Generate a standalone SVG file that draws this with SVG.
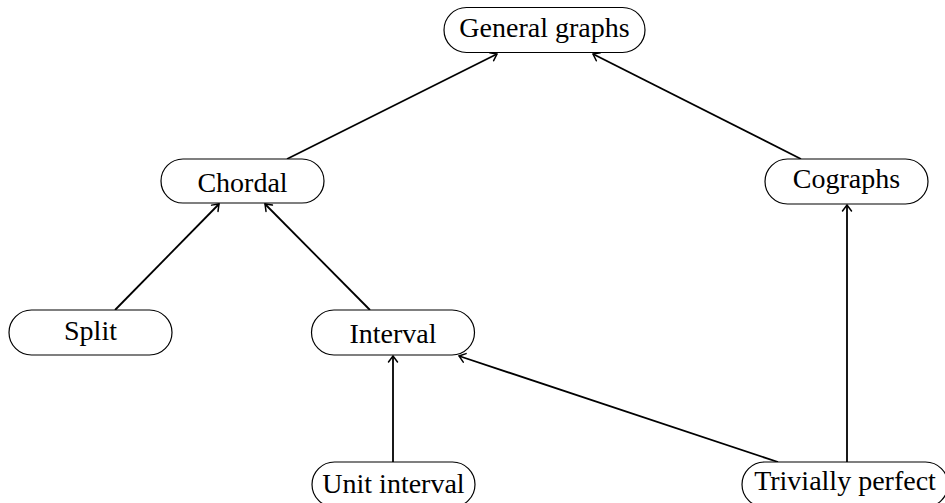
<svg xmlns="http://www.w3.org/2000/svg" width="945" height="503" viewBox="0 0 945 503">
<defs>
<style>
.box{fill:#fff;stroke:#000;stroke-width:1.2}
.lbl{font-family:"Liberation Serif","Times New Roman",serif;font-size:28px;fill:#000;text-anchor:middle}
.edge{fill:none;stroke:#000;stroke-width:1.8;marker-end:url(#arr)}
</style>
<marker id="arr" markerUnits="userSpaceOnUse" viewBox="-8 -6 10 12" refX="0" refY="0" markerWidth="10" markerHeight="12" orient="auto">
<path d="M -6 -4.5 Q -2 -1.5 0 0 Q -2 1.5 -6 4.5" fill="none" stroke="#000" stroke-width="1.5" stroke-linecap="round"/>
</marker>
</defs>
<rect width="945" height="503" fill="#fff"/>
<g id="connectors">
<line class="edge" x1="287" y1="159" x2="497" y2="54"/>
<line class="edge" x1="801" y1="159" x2="593" y2="54"/>
<line class="edge" x1="115" y1="310" x2="219" y2="204"/>
<line class="edge" x1="370" y1="310" x2="265" y2="204"/>
<line class="edge" x1="393" y1="462" x2="393" y2="356"/>
<line class="edge" x1="778" y1="462" x2="459" y2="356"/>
<line class="edge" x1="847" y1="462" x2="847" y2="205"/>
</g>
<g id="general">
<rect class="box" x="444" y="7.5" width="201" height="45" rx="22.5"/>
<text class="lbl" x="544.5" y="37">General graphs</text>
</g>
<g id="chordal">
<rect class="box" x="161" y="159" width="163" height="44" rx="22"/>
<text class="lbl" x="242.5" y="191.5">Chordal</text>
</g>
<g id="cographs">
<rect class="box" x="765" y="159" width="163" height="45" rx="22.5"/>
<text class="lbl" x="846.5" y="188">Cographs</text>
</g>
<g id="split">
<rect class="box" x="9" y="310" width="163" height="45" rx="22.5"/>
<text class="lbl" x="90.5" y="340">Split</text>
</g>
<g id="interval">
<rect class="box" x="311.5" y="310" width="163" height="45" rx="22.5"/>
<text class="lbl" x="393" y="343">Interval</text>
</g>
<g id="unitinterval">
<rect class="box" x="312" y="462" width="163" height="45" rx="22.5"/>
<text class="lbl" x="393.5" y="492.5">Unit interval</text>
</g>
<g id="triviallyperfect">
<rect class="box" x="742" y="462" width="206" height="45" rx="22.5"/>
<text class="lbl" x="845" y="490">Trivially perfect</text>
</g>
</svg>
